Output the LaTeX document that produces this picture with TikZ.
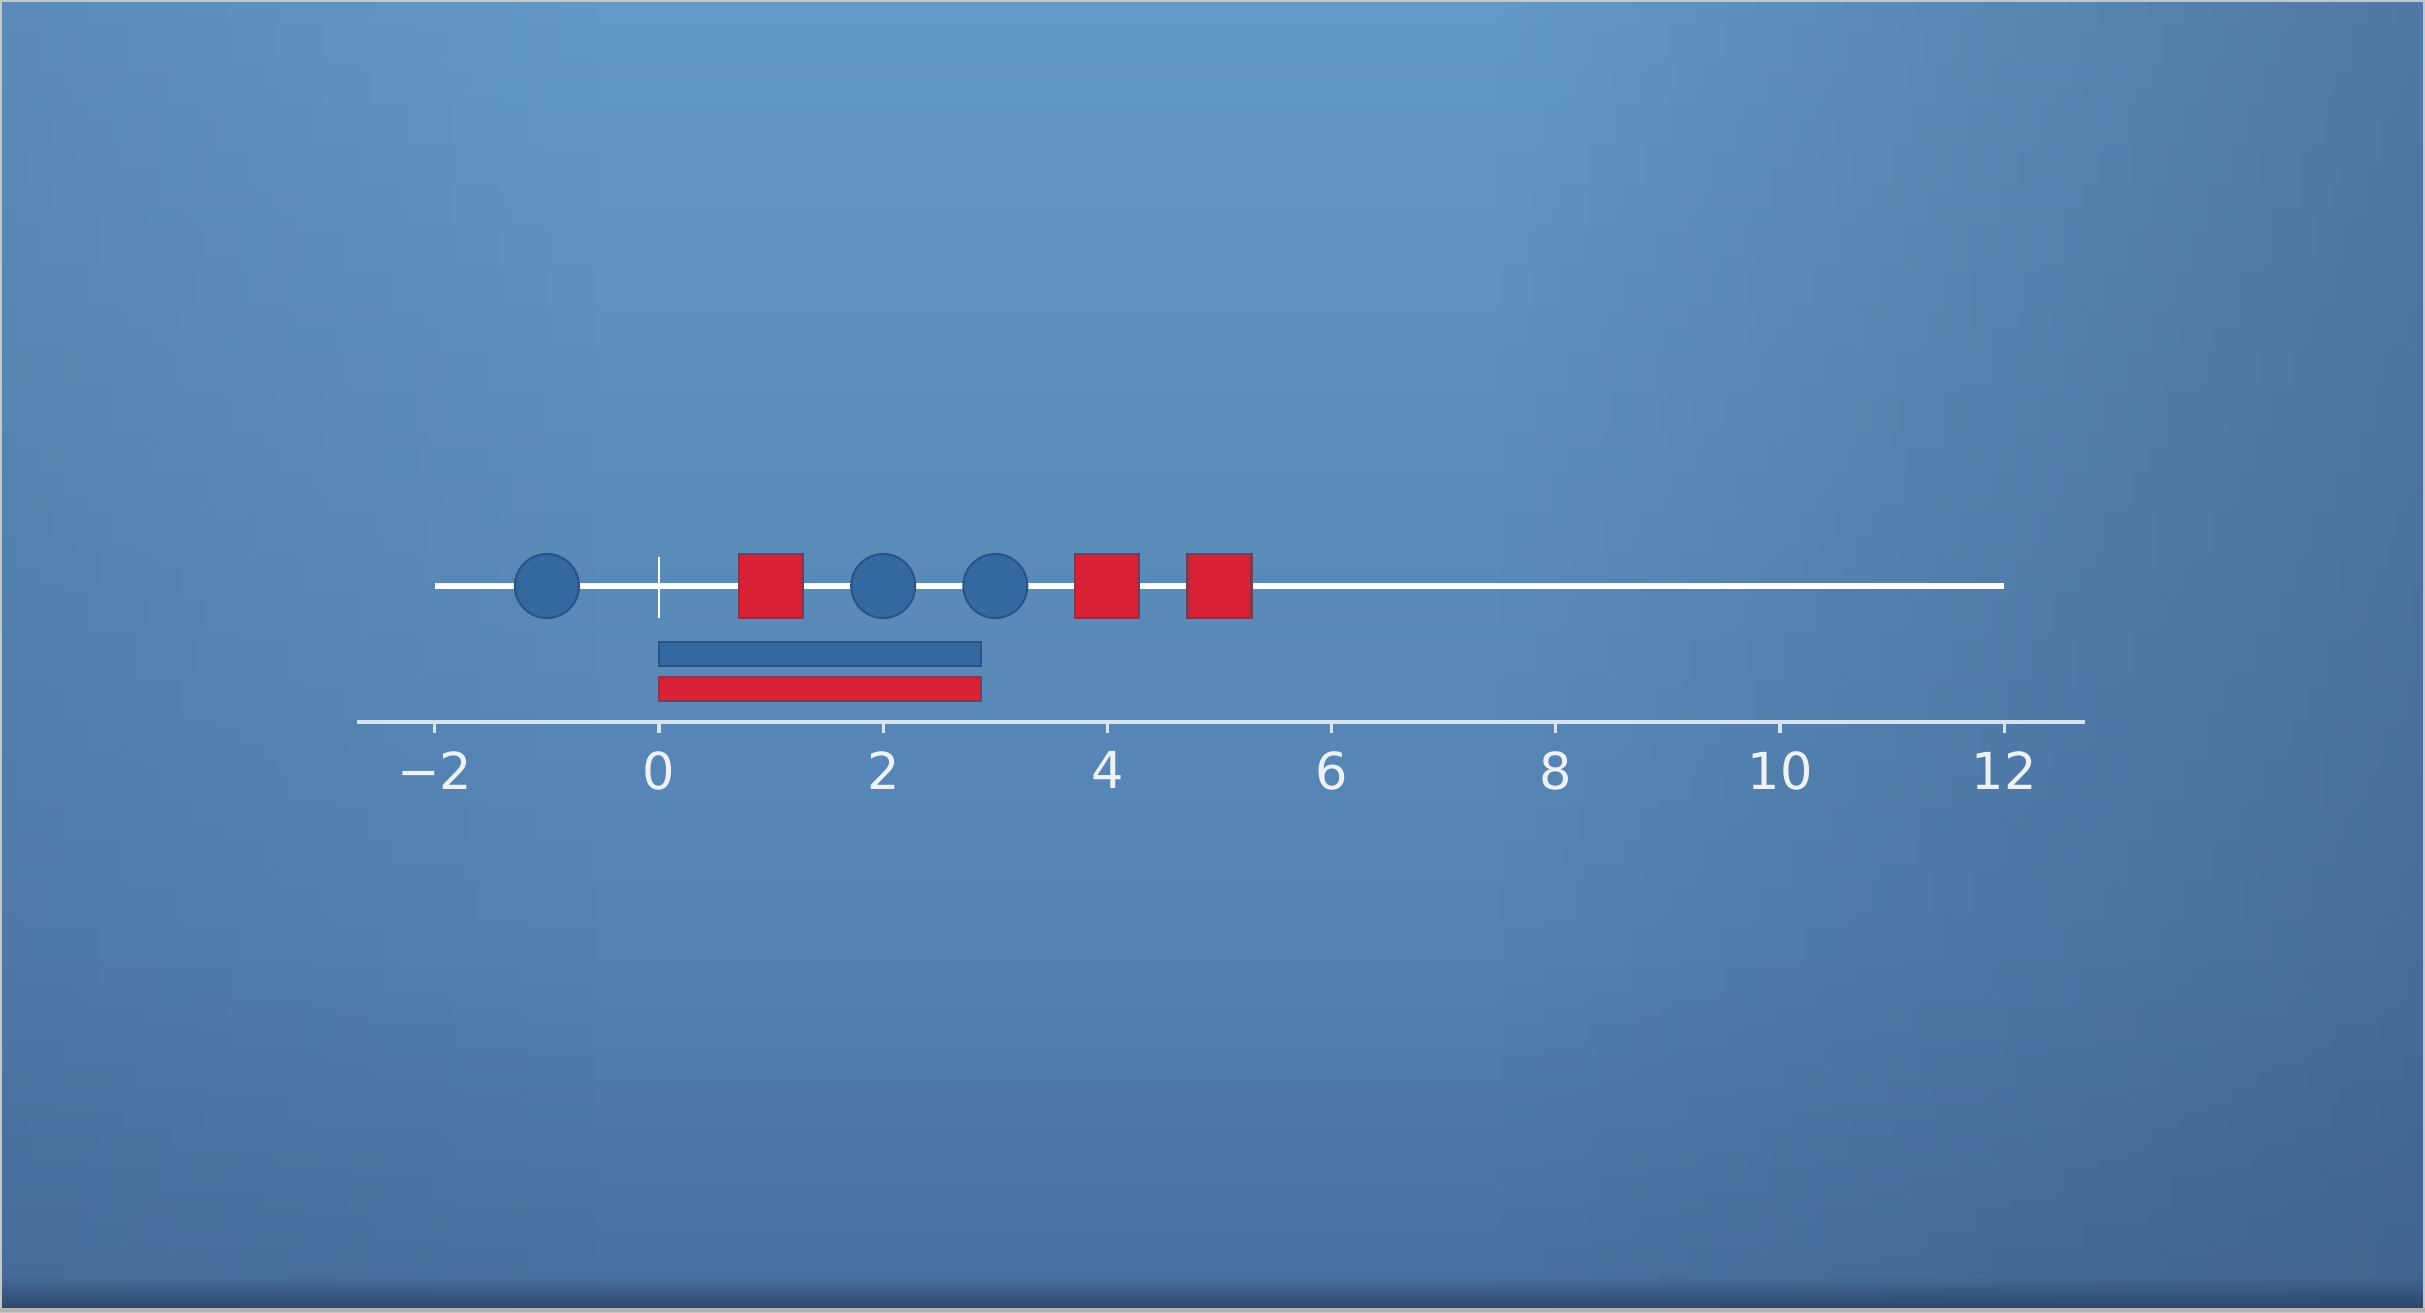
\documentclass[tikz,border=0pt]{standalone}
\usepackage{fontspec}
\setmainfont{DejaVu Sans}
\usetikzlibrary{positioning,fadings}

\definecolor{bgTop}{HTML}{6399C6}
\definecolor{bgMid}{HTML}{5C8FBF}
\definecolor{bgLow}{HTML}{4D79AA}
\definecolor{bgDark}{HTML}{3B5884}
\definecolor{bgDarker}{HTML}{2C4266}
\definecolor{dotBlue}{HTML}{3468A0}
\definecolor{dotEdge}{HTML}{2A5482}
\definecolor{sqRed}{HTML}{D92035}
\definecolor{sqEdge}{HTML}{7E3A4E}
\definecolor{txtWhite}{HTML}{EEF2F7}

\newcommand{\definitions}{%
  % origin of the number line
  \coordinate (o) at (0, 0);
  % ends of the data line
  \coordinate (lineL) at (-2, 0);
  \coordinate (lineR) at (12, 0);
  % ends of the axis
  \coordinate (axL) at (-2.69, -1.36);
  \coordinate (axR) at (12.72, -1.36);
}

\tikzset{
  dotblue/.style={circle, draw=dotEdge, fill=dotBlue, line width=0.6pt,
    minimum size=0.64cm, inner sep=0pt},
  sqred/.style={rectangle, draw=sqEdge, fill=sqRed, line width=0.6pt,
    minimum size=0.64cm, inner sep=0pt},
  dataline/.style={draw=white, line width=1.6pt},
  axisline/.style={draw=txtWhite!85!bgMid, line width=0.9pt},
  ticklabel/.style={text=txtWhite, inner sep=0pt,
    font=\fontsize{14.5}{16}\selectfont}
}

\begin{document}
\begin{tikzpicture}

  % background, light at the top and darker to the edges
  \useasboundingbox (0,0) rectangle (24.25,13.12);
  \shade[top color=bgTop, middle color=bgMid, bottom color=bgLow] (0,0) rectangle (24.25,13.12);
  \fill[bgDark, opacity=0.5, path fading=west] (15,0) rectangle (24.25,13.12);
  \fill[bgDark, opacity=0.2, path fading=east] (0,0) rectangle (6,13.12);
  \fill[bgDark, opacity=0.3, path fading=north] (0,0) rectangle (24.25,3.5);
  \fill[bgDarker, path fading=north] (0,0) rectangle (24.25,0.35);
  \draw[gray!45, line width=1.2pt] (0,0) rectangle (24.25,13.12);
  \fill[gray!60] (0,0) rectangle (24.25,0.04);

  \begin{scope}[shift={(6.59,7.26)}, x=1.121cm]
  % define points of the line
  \definitions

  % data line and mark at zero
  \draw[dataline] (lineL) -- (lineR);
  \draw[draw=white, line width=0.6pt] (0,0.29) -- (0,-0.32);

  % samples of each class
  \node[dotblue] (c1) at (-1,0) {};
  \node[sqred]   (s1) at (1,0) {};
  \node[dotblue] (c2) at (2,0) {};
  \node[dotblue] (c3) at (3,0) {};
  \node[sqred]   (s2) at (4,0) {};
  \node[sqred]   (s3) at (5,0) {};

  % bars below the line
  \filldraw[fill=dotBlue, draw=dotEdge, line width=0.6pt] (0,-0.56) rectangle (2.87,-0.80);
  \filldraw[fill=sqRed, draw=sqEdge, line width=0.6pt] (0,-0.91) rectangle (2.87,-1.15);

  % axis with ticks and labels
  \draw[axisline] (axL) -- (axR);
  \foreach \v/\t in {-2/−2, 0/0, 2/2, 4/4, 6/6, 8/8, 10/10, 12/12} {
    \coordinate (t\v) at (\v,-1.36);
    \draw[axisline] (t\v) -- ++(0,-0.11);
    \node[ticklabel] (l\v) [below=0.29cm of t\v] {\t};
  }
  \end{scope}

\end{tikzpicture}
\end{document}
